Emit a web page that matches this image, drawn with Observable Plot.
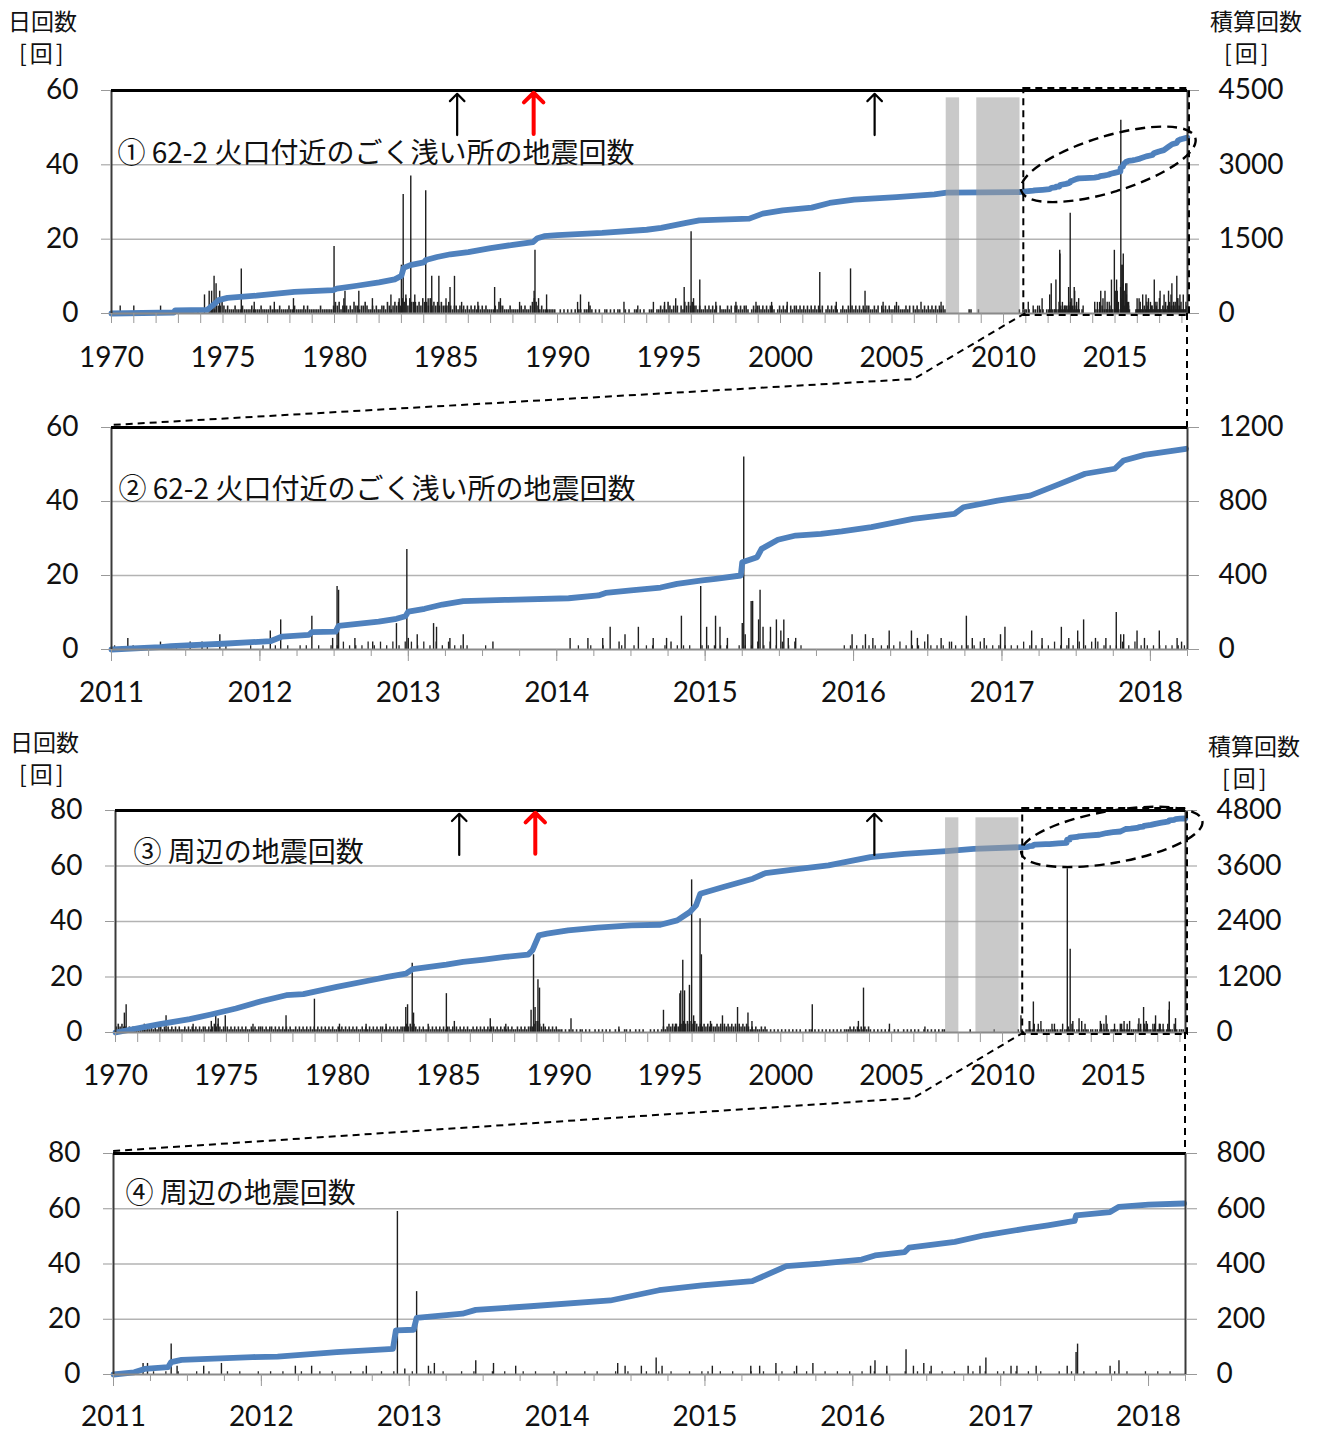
<!DOCTYPE html>
<html><head><meta charset="utf-8">
<script src="https://cdn.jsdelivr.net/npm/d3@7"></script>
<script src="https://cdn.jsdelivr.net/npm/@observablehq/plot@0.6"></script>
<style>
body{margin:0;background:#fff;}
#chart{position:relative;width:1319px;height:1432px;font-family:"Noto Sans CJK JP",sans-serif;overflow:hidden;}
.ttl{position:absolute;font-size:23px;line-height:1;color:#111;white-space:nowrap;font-family:"Noto Sans CJK JP",sans-serif;}
.br{letter-spacing:3px;}
</style></head><body><div id="chart"></div>
<script>
// ---------------- DATA ----------------
// ① / ② : 62-2 crater, very shallow earthquakes
const labelDeepLong = "① 62-2 火口付近のごく浅い所の地震回数";
const labelDeepZoom = "② 62-2 火口付近のごく浅い所の地震回数";
const labelAreaLong = "③ 周辺の地震回数";
const labelAreaZoom = "④ 周辺の地震回数";
const leftTitle = "日回数";
const rightTitle = "積算回数";
const unitTitle = "[回]";

// daily-count background, one string per year 1970-2010, one digit per month
const deepBgMonthly = [
"000000000000","000000000000","000000000000","000000000010","000001213223",
"212111211121","111211112111","121111211112","112111121211","111121111112",
"323122212132","212232112121","122132123232","434243332324","332423232322",
"232122121212","121212121211","112132211121","111121211234","321211111110",
"010101010101","101112101010","011010101100","101001101010","011101121213",
"212120213232","322121121212","120211121202","212122101212","212121221012",
"121202122121","212121212120","121212101211","212121212122","112120212121",
"121211121202","121012121212","121210000000","000001100010","000000000000",
"000000001011"];
// daily-count background 2011-2018, one digit per half month
const deepBgHalfMonth = [
"100100001010000100100010","101010110101121112121212","212121211100100000000000",
"000101010010101101011101","111101112121212100000011","111111121112111211112111",
"111211112111212211121211","111111"];
// visible daily spikes [year, count]
const deepSpikesEarly = [[1970.39,2],[1971.0,2],[1972.2,2],[1974.17,5],[1974.38,6],[1974.49,6],[1974.6,10],[1974.69,8],[1974.85,6],[1975.82,12],[1976.4,3],[1977.3,3],[1978.16,4],[1979.98,18],[1980.42,4],[1980.47,6],[1981.09,6],[1981.7,4],[1982.53,5],[1982.9,4],[1983.0,13],[1983.08,32],[1983.2,5],[1983.42,37],[1983.6,5],[1984.09,33],[1984.2,4],[1984.36,10],[1984.68,10],[1985.0,4],[1985.18,7],[1985.38,10],[1985.7,3],[1986.43,3],[1987.18,7],[1987.44,4],[1988.3,3],[1988.95,6],[1988.99,17],[1989.15,4],[1989.51,5],[1990.9,3],[1991.03,5],[1991.4,3],[1992.98,3],[1993.6,2],[1994.3,3],[1994.8,3],[1995.3,4],[1995.68,7],[1995.99,22],[1996.1,4],[1996.38,9],[1997.1,3],[1998.0,3],[1998.9,3],[1999.6,3],[2000.3,3],[2001.76,11],[2002.5,3],[2003.14,12],[2003.79,6],[2004.6,3],[2005.2,3],[2006.3,3],[2007.2,3]];
const deepSpikes2011 = [[2011.11,3],[2011.33,2],[2011.53,2],[2011.61,2],[2011.73,4],[2012.07,5],[2012.14,8],[2012.35,9],[2012.49,3],[2012.52,17],[2012.53,16],[2012.64,3],[2012.76,2],[2012.92,7],[2012.99,27],[2013.0,3],[2013.06,4],[2013.17,7],[2013.19,6],[2013.28,3],[2013.37,4],[2013.57,2],[2014.09,3],[2014.21,3],[2014.31,3],[2014.36,6],[2014.42,2],[2014.46,4],[2014.55,6],[2014.65,3],[2014.74,3],[2014.77,2],[2014.84,9],[2014.97,17],[2015.01,6],[2015.07,9],[2015.1,6],[2015.15,3],[2015.25,7],[2015.26,52],[2015.27,4],[2015.31,13],[2015.32,13],[2015.36,8],[2015.37,16],[2015.39,6],[2015.44,6],[2015.48,8],[2015.51,5],[2015.53,8],[2015.56,3],[2015.61,3],[2015.99,4],[2016.08,4],[2016.13,3],[2016.24,5],[2016.39,5],[2016.43,3],[2016.5,4],[2016.59,3],[2016.66,2],[2016.76,9],[2016.8,3],[2016.88,3],[2016.99,4],[2017.02,6],[2017.2,5],[2017.27,3],[2017.4,6],[2017.45,3],[2017.51,5],[2017.55,8],[2017.63,3],[2017.7,3],[2017.77,10],[2017.8,4],[2017.82,4],[2017.91,5],[2017.96,3],[2018.06,5],[2018.18,3],[2018.21,2]];
// cumulative count [year, total]
const deepCumEarly = [[1970.0,0],[1972.8,20],[1972.85,65],[1974.3,75],[1974.5,150],[1974.8,270],[1975.2,315],[1976.5,360],[1978.2,436],[1979.95,470],[1980.1,500],[1981.0,560],[1982.0,630],[1982.7,690],[1983.0,760],[1983.1,920],[1983.4,975],[1984.0,1030],[1984.1,1080],[1984.6,1140],[1985.2,1195],[1986.0,1240],[1987.0,1320],[1988.0,1385],[1988.9,1440],[1989.1,1520],[1989.4,1560],[1990.0,1580],[1992.0,1625],[1994.0,1690],[1994.65,1726],[1995.77,1827],[1996.36,1880],[1998.6,1914],[1999.2,2015],[2000.1,2082],[2001.4,2136],[2002.2,2230],[2003.3,2297],[2005.2,2350],[2006.9,2404],[2007.45,2438],[2010.7,2451],[2010.95,2465]];
const deepCum2011 = [[2011.0,0],[2011.33,13],[2011.4,18],[2011.75,31],[2012.07,45],[2012.15,70],[2012.33,79],[2012.35,94],[2012.51,97],[2012.53,128],[2012.8,151],[2012.92,166],[2012.98,180],[2013.0,205],[2013.11,220],[2013.23,243],[2013.37,261],[2013.65,268],[2014.08,277],[2014.28,292],[2014.33,306],[2014.5,319],[2014.7,335],[2014.81,355],[2014.98,373],[2015.07,382],[2015.24,400],[2015.25,472],[2015.35,499],[2015.38,544],[2015.49,593],[2015.61,616],[2015.78,625],[2015.92,638],[2016.12,661],[2016.4,706],[2016.68,733],[2016.74,769],[2016.97,805],[2017.19,832],[2017.39,895],[2017.56,950],[2017.76,977],[2017.82,1022],[2017.96,1052],[2018.24,1085]];

// ③ / ④ : surrounding earthquakes
const areaBgMonthly = [
"232322121212","121212121212","212121212121","121212121212","212123232121",
"212121212121","121212221212","212121212121","121212121212","121212121211",
"212121212121","121212121212","212121212122","232323212121","121212121212",
"212121212121","121212121212","212121212121","121212122234","432121212121",
"110101010101","101010010101","010100101001","101001010100","010101012123",
"232323343434","343232323232","232323232323","232323212121","121210101010",
"101010101010","010110101010","101010101011","121212121212","101010101010",
"010100101010","101001010101","010110000000","000000100000","000000010000",
"000000001010"];
const areaBgHalfMonth = [
"010100101010010100101001","010100100101001010010100","100101001010010100101001",
"010010100101001010100101","101010010101101010010101","010101001010101010010101",
"101010100101010100101001","010100"];
const areaSpikesEarly = [[1970.4,7],[1970.48,10],[1971.3,3],[1972.28,6],[1973.5,3],[1974.32,4],[1974.52,6],[1974.63,5],[1974.95,6],[1976.2,3],[1977.69,6],[1978.97,12],[1980.1,3],[1981.3,3],[1982.2,3],[1983.09,9],[1983.17,10],[1983.38,25],[1983.44,7],[1984.1,3],[1984.92,14],[1985.28,4],[1986.9,5],[1987.6,3],[1988.74,8],[1988.85,28],[1988.92,9],[1989.05,19],[1989.12,16],[1989.3,3],[1990.54,5],[1992.7,2],[1994.71,8],[1995.25,3],[1995.45,14],[1995.49,15],[1995.58,26],[1995.66,15],[1995.88,17],[1995.98,55],[1996.07,6],[1996.36,41],[1996.42,28],[1996.83,4],[1997.37,6],[1998.05,9],[1998.52,7],[1998.7,4],[2001.42,10],[2003.5,4],[2003.73,16],[2004.9,3],[2006.5,2],[2010.83,6]];
const areaSpikes2011 = [[2011.2,4],[2011.23,4],[2011.39,11],[2011.43,3],[2011.61,3],[2011.73,4],[2012.23,3],[2012.34,3],[2012.71,3],[2012.92,59],[2012.97,2],[2013.05,30],[2013.13,3],[2013.17,4],[2013.45,5],[2013.57,4],[2013.72,3],[2014.41,4],[2014.46,3],[2014.57,3],[2014.67,6],[2014.71,3],[2015.05,3],[2015.31,3],[2015.37,3],[2015.48,4],[2015.62,3],[2015.73,4],[2016.12,3],[2016.15,5],[2016.23,3],[2016.36,9],[2016.41,3],[2016.48,4],[2016.53,3],[2016.78,3],[2016.86,3],[2016.9,6],[2017.07,3],[2017.11,3],[2017.24,3],[2017.45,3],[2017.51,8],[2017.52,11],[2017.74,3],[2017.8,5]];
const areaCumEarly = [[1970.0,0],[1972.0,180],[1973.35,288],[1974.3,389],[1975.43,518],[1976.57,676],[1977.7,806],[1978.47,828],[1979.98,986],[1981.5,1130],[1982.26,1202],[1983.1,1274],[1983.4,1370],[1984.92,1468],[1985.67,1526],[1986.62,1576],[1987.57,1633],[1988.61,1684],[1988.8,1777],[1989.09,2101],[1989.46,2137],[1990.41,2209],[1991.74,2267],[1993.26,2317],[1994.57,2330],[1995.33,2425],[1995.9,2605],[1996.18,2749],[1996.37,3001],[1997.41,3145],[1998.74,3325],[1999.31,3447],[2000.83,3540],[2002.15,3612],[2003.29,3720],[2004.04,3792],[2005.57,3864],[2007.47,3922],[2008.7,3972],[2010.87,4008]];
const areaCum2011 = [[2011.0,0],[2011.14,8],[2011.21,20],[2011.37,27],[2011.39,45],[2011.46,53],[2011.94,63],[2012.11,65],[2012.51,81],[2012.89,93],[2012.91,160],[2013.03,162],[2013.05,205],[2013.36,220],[2013.45,234],[2013.82,247],[2014.36,268],[2014.69,305],[2014.98,323],[2015.32,338],[2015.55,392],[2015.78,401],[2016.06,416],[2016.15,431],[2016.35,443],[2016.38,459],[2016.69,480],[2016.89,504],[2017.17,528],[2017.32,540],[2017.5,556],[2017.51,576],[2017.74,588],[2017.8,607],[2018.0,615],[2018.24,619]];

// periods without observation (grey bands) [from, to]
const gapPeriods = [[2007.43, 2008.03], [2008.8, 2010.74]];
// eruptions (arrows)
const eruptions = [{t: 1985.5, red: false}, {t: 1988.93, red: true}, {t: 2004.22, red: false}];
// axis ticks
const longYears = d3.range(1970, 2019);
const longLabels = d3.range(1970, 2016, 5);
const zoomQuarters = d3.range(2011, 2018.26, 0.25);
const zoomLabels = d3.range(2011, 2019);
const longDomain = [1970, 2018.25];
const zoomDomain = [2011, 2018.25];
const zoomStart = 2011;

// ---------------- helpers ----------------
function expandBg(strings, start, perYear) {
  const out = [];
  strings.forEach((s, i) => {
    for (let j = 0; j < s.length; j++) {
      const v = +s[j];
      if (v > 0) out.push({x: start + i + (j + 0.5) / perYear, v});
    }
  });
  return out;
}
function joinCum(early, late) {
  const base = early[early.length - 1][1];
  return early.concat(late.map(([t, v]) => [t, v + base]));
}

const NS = "http://www.w3.org/2000/svg";
function makePanel(c) {
  const k = c.yMax / c.rMax;
  const gridVals = d3.range(20, c.yMax, 20);
  const yTicks = d3.range(0, c.yMax + 1, 20);
  const marks = [
    Plot.ruleY(gridVals, {stroke: "#b3b3b3", strokeWidth: 1.5}),
    Plot.ruleX(c.bg, {x: "x", y1: 0, y2: "v", stroke: "#262626", strokeWidth: c.bgWidth}),
    Plot.ruleX(c.spikes, {x: d => d[0], y1: 0, y2: d => d[1], stroke: "#1e1e1e", strokeWidth: 1.4}),
    Plot.line(c.cum, {x: d => d[0], y: d => d[1] * k, stroke: "#4F81BD", strokeWidth: 5.8, strokeLinejoin: "round", strokeLinecap: "round"})
  ];
  if (c.gaps) marks.push(Plot.rect(c.gaps, {x1: d => d[0], x2: d => d[1], y1: 0, y2: c.yMax * 0.967, fill: "#9e9e9e", fillOpacity: 0.56}));
  marks.push(
    Plot.ruleY([0], {stroke: "#8a8a8a", strokeWidth: 2}),
    Plot.ruleX([c.xDomain[0]], {stroke: "#3a3a3a", strokeWidth: 2}),
    Plot.ruleX([c.xDomain[1]], {stroke: "#3a3a3a", strokeWidth: 2}),
    Plot.ruleY([c.yMax], {stroke: "#000", strokeWidth: 3}),
    Plot.axisY({ticks: yTicks, tickSize: 10, tickPadding: 23, stroke: "#999", fill: "#111", fontSize: 28, label: null, tickFormat: d => String(d)}),
    Plot.axisY({anchor: "right", ticks: yTicks, tickSize: 11, tickPadding: 20, stroke: "#999", fill: "#111", fontSize: 28, label: null, tickFormat: d => String(Math.round(d / k))}),
    Plot.axisX({ticks: c.minorTicks, tickSize: c.minorSize, tickFormat: () => "", stroke: "#999", label: null}),
    Plot.axisX({ticks: c.majorTicks, tickSize: c.majorSize, tickPadding: 0, tickFormat: () => "", stroke: "#999", label: null}),
    Plot.axisX({ticks: c.labelTicks, tickSize: 0, tickPadding: c.labelPad, tickFormat: d => String(d), fill: "#111", fontSize: 28, label: null}),
    Plot.text([c.label], {x: c.xDomain[0], y: c.labelY, dx: c.labelDx, text: d => d, textAnchor: "start", fontSize: 28, fontFamily: "Noto Sans CJK JP", fill: "#111"})
  );
  if (c.arrows) {
    marks.push(
      Plot.arrow(c.arrows.filter(a => !a.red), {x: "t", y1: c.yMax * 0.8, y2: c.yMax * 0.985, stroke: "#000", strokeWidth: 2.2, headLength: 7, headAngle: 90}),
      Plot.arrow(c.arrows.filter(a => a.red), {x: "t", y1: c.yMax * 0.805, y2: c.yMax * 0.99, stroke: "#ff0000", strokeWidth: 4, headLength: 5.6, headAngle: 90})
    );
  }
  if (c.zoomBox) {
    marks.push(Plot.rect([0], {x1: zoomStart, x2: c.xDomain[1], y1: 0, y2: c.yMax, fill: "none", stroke: "#000", strokeWidth: 2, strokeDasharray: "7,5", inset: -2}));
  }
  const svg = Plot.plot({
    width: 1319, height: c.height,
    marginTop: c.mt, marginBottom: c.mb, marginLeft: c.ml, marginRight: c.mr,
    x: {type: "linear", domain: c.xDomain},
    y: {type: "linear", domain: [0, c.yMax]},
    style: {fontFamily: "Lato, sans-serif", fontSize: "28px", color: "#111", background: "transparent", overflow: "visible"},
    marks
  });
  svg.style.position = "absolute";
  svg.style.left = "0px";
  svg.style.top = c.top + "px";
  svg.__top = c.top;
  if (c.ellipse) {
    const e = c.ellipse;
    const cx = svg.scale("x").apply(e.x), cy = svg.scale("y").apply(e.y);
    const el = document.createElementNS(NS, "ellipse");
    el.setAttribute("cx", cx); el.setAttribute("cy", cy);
    el.setAttribute("rx", e.rx); el.setAttribute("ry", e.ry);
    el.setAttribute("transform", `rotate(${e.rot} ${cx} ${cy})`);
    el.setAttribute("fill", "none"); el.setAttribute("stroke", "#000");
    el.setAttribute("stroke-width", 2.4); el.setAttribute("stroke-dasharray", "10,6");
    svg.appendChild(el);
  }
  return svg;
}

// ---------------- build ----------------
const chart = document.getElementById("chart");

const deepBgAll = expandBg(deepBgMonthly, 1970, 12).concat(expandBg(deepBgHalfMonth, 2011, 24));
const deepBgZoom = expandBg(deepBgHalfMonth, 2011, 24);
const areaBgAll = expandBg(areaBgMonthly, 1970, 12).concat(expandBg(areaBgHalfMonth, 2011, 24));
const areaBgZoom = expandBg(areaBgHalfMonth, 2011, 24);

const p1 = makePanel({top: 60, height: 320, mt: 30, mb: 67, ml: 111, mr: 132,
  xDomain: longDomain, yMax: 60, rMax: 4500,
  minorTicks: longYears, minorSize: 10, majorTicks: [], majorSize: 10, labelTicks: longLabels, labelPad: 34,
  bg: deepBgAll, bgWidth: 1.6, spikes: deepSpikesEarly.concat(deepSpikes2011), cum: joinCum(deepCumEarly, deepCum2011),
  gaps: gapPeriods, arrows: eruptions, zoomBox: true,
  ellipse: {x: 2014.72, y: 40, rx: 91, ry: 28, rot: -17},
  label: labelDeepLong, labelY: 43, labelDx: 6});
const p2 = makePanel({top: 400, height: 320, mt: 27, mb: 71, ml: 111, mr: 132,
  xDomain: zoomDomain, yMax: 60, rMax: 1200,
  minorTicks: zoomQuarters, minorSize: 7, majorTicks: zoomLabels, majorSize: 12, labelTicks: zoomLabels, labelPad: 33,
  bg: deepBgZoom, bgWidth: 1.3, spikes: deepSpikes2011, cum: deepCum2011,
  label: labelDeepZoom, labelY: 43.2, labelDx: 7});
const p3 = makePanel({top: 780, height: 320, mt: 30, mb: 68, ml: 115, mr: 134,
  xDomain: longDomain, yMax: 80, rMax: 4800,
  minorTicks: longYears, minorSize: 10, majorTicks: [], majorSize: 10, labelTicks: longLabels, labelPad: 33,
  bg: areaBgAll, bgWidth: 1.6, spikes: areaSpikesEarly.concat(areaSpikes2011), cum: joinCum(areaCumEarly, areaCum2011),
  gaps: gapPeriods, arrows: eruptions, zoomBox: true,
  ellipse: {x: 2014.95, y: 70.3, rx: 92, ry: 26, rot: -10},
  label: labelAreaLong, labelY: 64.5, labelDx: 18});
const p4 = makePanel({top: 1120, height: 312, mt: 33, mb: 58, ml: 113, mr: 134,
  xDomain: zoomDomain, yMax: 80, rMax: 800,
  minorTicks: zoomQuarters, minorSize: 7, majorTicks: zoomLabels, majorSize: 12, labelTicks: zoomLabels, labelPad: 32,
  bg: areaBgZoom, bgWidth: 1.3, spikes: areaSpikes2011, cum: areaCum2011,
  label: labelAreaZoom, labelY: 65.2, labelDx: 12});

[p1, p2, p3, p4].forEach(p => chart.appendChild(p));

// axis titles
function title(text, left, top, cls) {
  const d = document.createElement("div");
  d.className = "ttl" + (cls ? " " + cls : "");
  d.textContent = text;
  d.style.left = left + "px"; d.style.top = top + "px";
  chart.appendChild(d);
}
title(leftTitle, 8, 9); title(unitTitle, 19, 41, "br");
title(rightTitle, 1210, 9); title(unitTitle, 1224, 41, "br");
title(leftTitle, 10, 730); title(unitTitle, 19, 762, "br");
title(rightTitle, 1208, 734); title(unitTitle, 1222, 766, "br");

// dashed connectors between the long panels and their zoomed views
const ov = document.createElementNS(NS, "svg");
ov.setAttribute("width", 1319); ov.setAttribute("height", 1432);
ov.style.position = "absolute"; ov.style.left = "0px"; ov.style.top = "0px"; ov.style.pointerEvents = "none";
chart.appendChild(ov);
function P(p, x, y) { return [p.scale("x").apply(x), p.scale("y").apply(y) + p.__top]; }
function poly(pts) {
  const el = document.createElementNS(NS, "polyline");
  el.setAttribute("points", pts.map(q => q.join(",")).join(" "));
  el.setAttribute("fill", "none"); el.setAttribute("stroke", "#000");
  el.setAttribute("stroke-width", 2); el.setAttribute("stroke-dasharray", "7,5");
  ov.appendChild(el);
}
function connect(long, zoom, yMaxZoom) {
  const a = P(long, zoomStart, 0);
  const bend = [long.scale("x").apply(2006), a[1] + 66];
  const b = P(zoom, zoomStart, yMaxZoom); b[1] -= 2;
  poly([a, bend, b]);
  const c = P(long, longDomain[1], 0);
  const d = P(zoom, zoomDomain[1], yMaxZoom);
  poly([c, d]);
}
connect(p1, p2, 60);
connect(p3, p4, 80);
</script>
</body></html>
